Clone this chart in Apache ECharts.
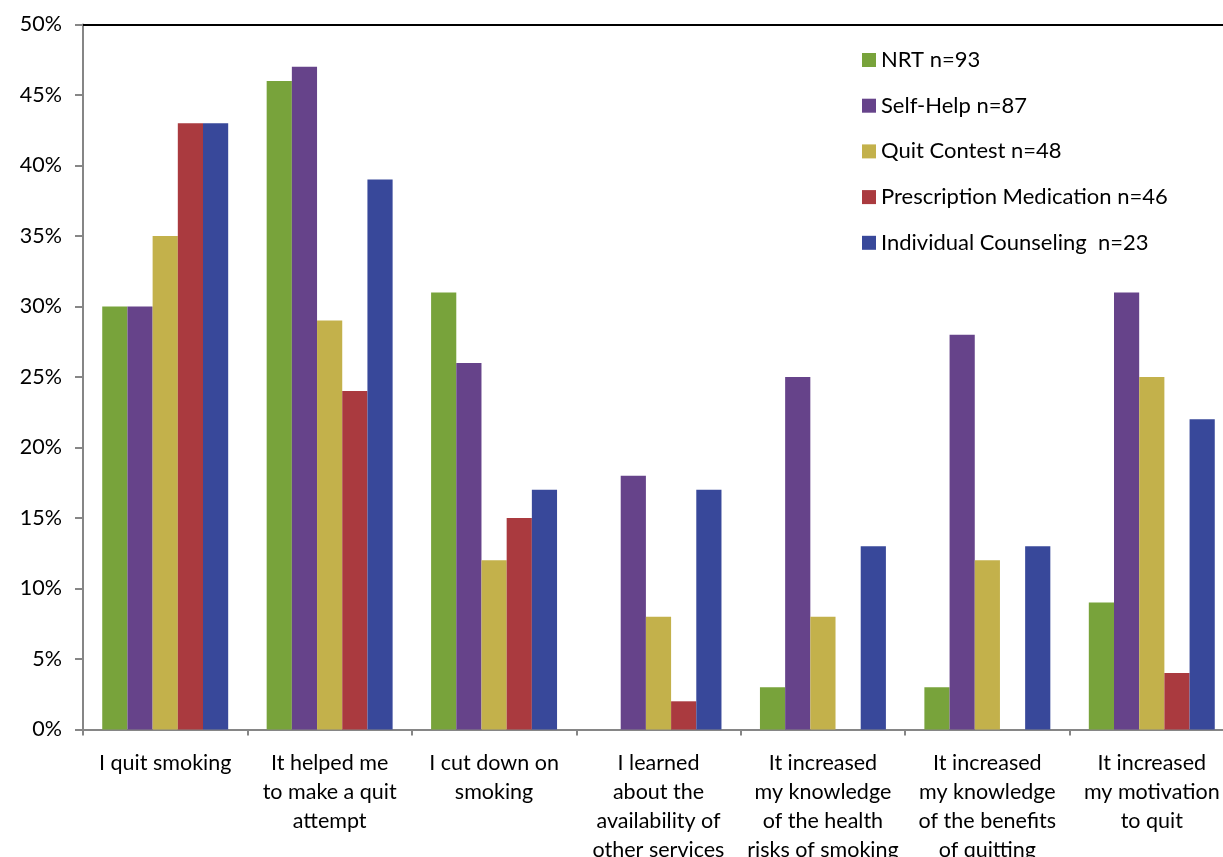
<!DOCTYPE html>
<html>
<head>
<meta charset="utf-8">
<script src="https://cdn.jsdelivr.net/npm/echarts@6/dist/echarts.min.js"></script>
<style>html,body{margin:0;padding:0;background:#fff;}#c{width:1223px;height:857px;}</style>
</head>
<body>
<div id="c"></div>
<script>
const categories = [
  "I quit smoking",
  "It helped me\nto make a quit\nattempt",
  "I cut down on\nsmoking",
  "I learned\nabout the\navailability of\nother services",
  "It increased\nmy knowledge\nof the health\nrisks of smoking",
  "It increased\nmy knowledge\nof the benefits\nof quitting",
  "It increased\nmy motivation\nto quit"
];
const seriesNames = ["NRT n=93", "Self-Help n=87", "Quit Contest n=48", "Prescription Medication n=46", "Individual Counseling  n=23"];
const nrt          = [30, 46, 31, 0, 3, 3, 9];
const selfHelp     = [30, 47, 26, 18, 25, 28, 31];
const quitContest  = [35, 29, 12, 8, 8, 12, 25];
const prescription = [43, 24, 15, 2, 0, 0, 4];
const counseling   = [43, 39, 17, 17, 13, 13, 22];
const yTicks = [0, 5, 10, 15, 20, 25, 30, 35, 40, 45, 50];

const colors = ["#78A33B", "#66438A", "#C3B14B", "#AA3A3F", "#38489A"];
const values = [nrt, selfHelp, quitContest, prescription, counseling];
const font = "Lato, 'Open Sans', sans-serif";

const chart = echarts.init(document.getElementById('c'));
chart.setOption({
  animation: false,
  color: colors,
  grid: { left: 83, top: 24.5, bottom: 127.5, right: -11, containLabel: false, outerBoundsMode: 'none' },
  legend: {
    orient: 'vertical', left: 857, top: 44,
    itemWidth: 14, itemHeight: 14, itemGap: 23.7,
    icon: 'rect',
    textStyle: { fontFamily: font, fontSize: 22, color: '#000', lineHeight: 22 },
    data: seriesNames
  },
  xAxis: [{
    type: 'category', data: categories,
    axisLine: { lineStyle: { color: '#868686', width: 2 } },
    axisTick: { show: true, length: 6, lineStyle: { color: '#868686', width: 2 } },
    axisLabel: { interval: 0, margin: 19, fontFamily: font, fontSize: 21.5, color: '#000', lineHeight: 29, align: 'center', hideOverlap: false }
  }, {
    type: 'category', data: categories, position: 'top',
    axisLine: { show: true, lineStyle: { color: '#000', width: 2 } },
    axisTick: { show: false }, axisLabel: { show: false }
  }],
  yAxis: {
    type: 'value', min: 0, max: 50, interval: 5,
    splitLine: { show: false },
    axisLine: { show: true, lineStyle: { color: '#868686', width: 2 } },
    axisTick: { show: true, length: 8, lineStyle: { color: '#868686', width: 2 } },
    axisLabel: { margin: 21, fontFamily: font, fontSize: 21.5, color: '#000',
      formatter: v => yTicks.includes(v) ? v + '%' : '' }
  },
  series: seriesNames.map((n, i) => ({
    name: n, type: 'bar', data: values[i], xAxisIndex: 0,
    barGap: '0%', barCategoryGap: '23.4%',
    itemStyle: { color: colors[i] }
  }))
});
</script>
</body>
</html>
